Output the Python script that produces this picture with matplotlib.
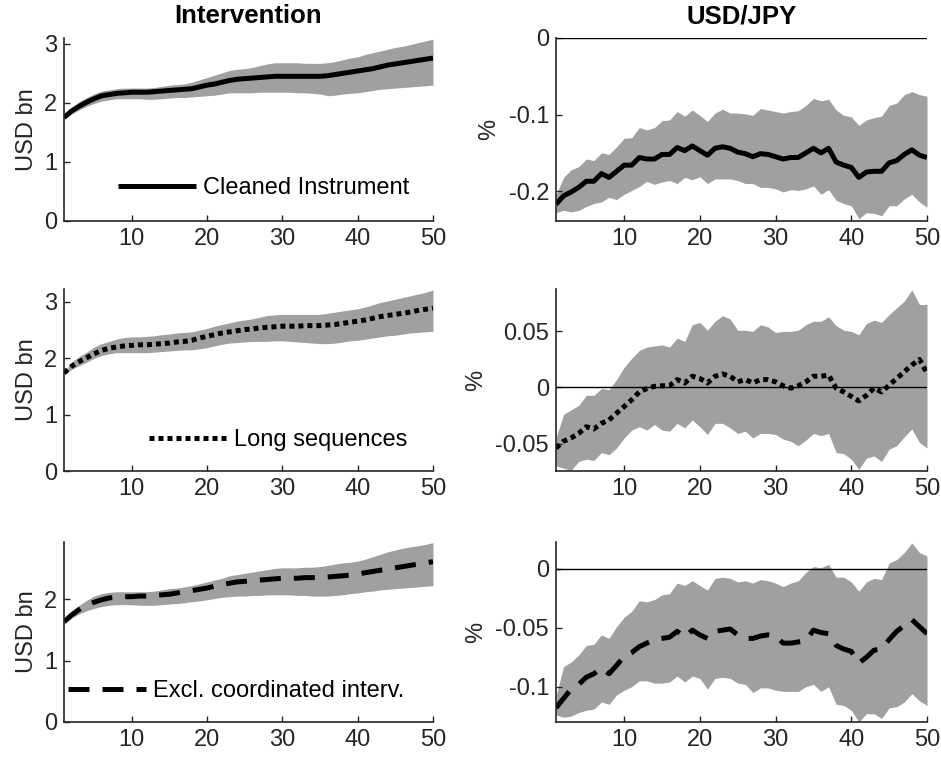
import matplotlib
matplotlib.use("Agg")
import matplotlib.pyplot as plt
import numpy as np

plt.rcParams['font.family'] = ['Liberation Sans', 'DejaVu Sans']
plt.rcParams['axes.unicode_minus'] = False

horizon = list(range(1, 51))

# ---- Intervention (left column) ----
int_clean = [1.75, 1.86, 1.94, 2.01, 2.07, 2.12, 2.14, 2.16, 2.17, 2.18, 2.18, 2.18, 2.19, 2.20, 2.21, 2.22, 2.23, 2.24, 2.27, 2.30,
             2.32, 2.35, 2.38, 2.40, 2.41, 2.42, 2.43, 2.44, 2.45, 2.45, 2.45, 2.45, 2.45, 2.45, 2.45, 2.46, 2.48, 2.50, 2.52, 2.54,
             2.56, 2.58, 2.61, 2.64, 2.66, 2.68, 2.70, 2.72, 2.74, 2.76]
int_clean_hi = [1.77, 1.92, 2.02, 2.09, 2.15, 2.20, 2.22, 2.24, 2.25, 2.25, 2.25, 2.25, 2.26, 2.28, 2.30, 2.31, 2.32, 2.35, 2.39, 2.43,
                2.47, 2.51, 2.55, 2.57, 2.58, 2.60, 2.63, 2.66, 2.68, 2.68, 2.68, 2.68, 2.67, 2.67, 2.67, 2.68, 2.70, 2.73, 2.76, 2.78,
                2.82, 2.85, 2.88, 2.91, 2.94, 2.96, 2.99, 3.02, 3.05, 3.08]
int_clean_lo = [1.73, 1.81, 1.88, 1.94, 1.99, 2.03, 2.05, 2.07, 2.07, 2.07, 2.07, 2.06, 2.06, 2.07, 2.08, 2.09, 2.09, 2.10, 2.11, 2.12,
                2.13, 2.15, 2.17, 2.17, 2.17, 2.17, 2.18, 2.18, 2.18, 2.18, 2.18, 2.17, 2.17, 2.16, 2.15, 2.12, 2.13, 2.15, 2.16, 2.17,
                2.19, 2.21, 2.23, 2.24, 2.25, 2.26, 2.27, 2.28, 2.29, 2.30]

int_long = [1.74, 1.86, 1.94, 2.01, 2.08, 2.14, 2.18, 2.20, 2.22, 2.23, 2.24, 2.24, 2.25, 2.26, 2.27, 2.29, 2.30, 2.32, 2.36, 2.39,
            2.42, 2.45, 2.47, 2.49, 2.51, 2.52, 2.54, 2.55, 2.56, 2.57, 2.57, 2.57, 2.58, 2.58, 2.58, 2.59, 2.60, 2.62, 2.64, 2.66,
            2.68, 2.71, 2.74, 2.76, 2.78, 2.80, 2.82, 2.85, 2.87, 2.89]
int_long_hi = [1.76, 1.93, 2.03, 2.11, 2.20, 2.26, 2.30, 2.34, 2.37, 2.38, 2.38, 2.39, 2.40, 2.42, 2.43, 2.45, 2.46, 2.47, 2.50, 2.53,
               2.57, 2.60, 2.63, 2.66, 2.68, 2.70, 2.73, 2.76, 2.77, 2.78, 2.78, 2.78, 2.78, 2.78, 2.78, 2.80, 2.82, 2.84, 2.86, 2.88,
               2.91, 2.95, 2.99, 3.02, 3.05, 3.08, 3.11, 3.14, 3.17, 3.21]
int_long_lo = [1.72, 1.80, 1.87, 1.93, 2.00, 2.05, 2.08, 2.10, 2.10, 2.10, 2.10, 2.10, 2.11, 2.12, 2.13, 2.14, 2.15, 2.15, 2.17, 2.19,
               2.22, 2.25, 2.27, 2.28, 2.29, 2.30, 2.30, 2.30, 2.31, 2.31, 2.30, 2.29, 2.28, 2.27, 2.26, 2.26, 2.27, 2.29, 2.31, 2.32,
               2.34, 2.36, 2.38, 2.40, 2.41, 2.43, 2.45, 2.46, 2.47, 2.48]

int_excl = [1.63, 1.74, 1.83, 1.90, 1.95, 1.99, 2.02, 2.03, 2.04, 2.04, 2.05, 2.05, 2.06, 2.07, 2.08, 2.10, 2.12, 2.14, 2.16, 2.18,
            2.21, 2.24, 2.26, 2.28, 2.29, 2.30, 2.31, 2.32, 2.33, 2.34, 2.34, 2.34, 2.35, 2.35, 2.35, 2.36, 2.37, 2.38, 2.39, 2.41,
            2.43, 2.45, 2.47, 2.49, 2.51, 2.53, 2.55, 2.57, 2.59, 2.61]
int_excl_hi = [1.65, 1.80, 1.90, 1.98, 2.05, 2.09, 2.11, 2.12, 2.12, 2.12, 2.12, 2.12, 2.13, 2.15, 2.17, 2.18, 2.20, 2.22, 2.25, 2.28,
               2.31, 2.34, 2.38, 2.40, 2.42, 2.44, 2.46, 2.48, 2.50, 2.51, 2.51, 2.51, 2.52, 2.52, 2.53, 2.55, 2.57, 2.59, 2.60, 2.62,
               2.65, 2.69, 2.73, 2.77, 2.80, 2.83, 2.85, 2.87, 2.89, 2.92]
int_excl_lo = [1.61, 1.69, 1.76, 1.81, 1.85, 1.88, 1.90, 1.91, 1.91, 1.91, 1.90, 1.90, 1.90, 1.91, 1.92, 1.93, 1.94, 1.96, 1.97, 1.99,
               2.01, 2.03, 2.04, 2.05, 2.05, 2.06, 2.06, 2.07, 2.07, 2.07, 2.07, 2.06, 2.06, 2.05, 2.05, 2.05, 2.06, 2.07, 2.09, 2.10,
               2.12, 2.13, 2.15, 2.16, 2.17, 2.18, 2.19, 2.20, 2.21, 2.22]

# ---- USD/JPY (right column) ----
fx_clean = [-0.217, -0.206, -0.201, -0.195, -0.187, -0.187, -0.177, -0.182, -0.174, -0.166, -0.166, -0.156, -0.158, -0.158, -0.152,
            -0.152, -0.143, -0.147, -0.141, -0.147, -0.153, -0.144, -0.142, -0.144, -0.149, -0.151, -0.155, -0.151, -0.152, -0.155,
            -0.158, -0.156, -0.156, -0.150, -0.144, -0.150, -0.144, -0.162, -0.166, -0.169, -0.182, -0.175, -0.174, -0.174, -0.163,
            -0.160, -0.152, -0.146, -0.153, -0.156]
fx_clean_hi = [-0.205, -0.182, -0.172, -0.168, -0.158, -0.160, -0.150, -0.152, -0.142, -0.131, -0.130, -0.117, -0.120, -0.117, -0.108,
               -0.107, -0.096, -0.102, -0.094, -0.101, -0.109, -0.098, -0.093, -0.098, -0.098, -0.099, -0.101, -0.092, -0.094, -0.096,
               -0.098, -0.096, -0.095, -0.088, -0.079, -0.082, -0.080, -0.094, -0.101, -0.103, -0.114, -0.107, -0.104, -0.102, -0.088,
               -0.085, -0.074, -0.070, -0.074, -0.076]
fx_clean_lo = [-0.228, -0.225, -0.227, -0.225, -0.220, -0.216, -0.214, -0.208, -0.211, -0.204, -0.199, -0.194, -0.187, -0.191, -0.188,
               -0.186, -0.190, -0.182, -0.185, -0.181, -0.190, -0.184, -0.184, -0.184, -0.186, -0.190, -0.190, -0.195, -0.195, -0.197,
               -0.201, -0.198, -0.199, -0.197, -0.193, -0.204, -0.198, -0.212, -0.216, -0.219, -0.236, -0.228, -0.229, -0.232, -0.219,
               -0.219, -0.210, -0.204, -0.214, -0.221]

fx_long = [-0.054, -0.048, -0.045, -0.041, -0.035, -0.037, -0.032, -0.029, -0.023, -0.017, -0.011, -0.004, -0.001, 0.001, 0.0015,
           0.0015, 0.007, 0.004, 0.010, 0.008, 0.004, 0.010, 0.012, 0.010, 0.005, 0.007, 0.004, 0.007, 0.007, 0.005,
           0.0015, -0.0006, 0.0015, 0.005, 0.010, 0.010, 0.011, -0.0006, -0.004, -0.008, -0.012, -0.007, -0.0006, -0.004, 0.002,
           0.008, 0.014, 0.020, 0.025, 0.013]
fx_long_hi = [-0.045, -0.024, -0.020, -0.016, -0.007, -0.007, -0.001, -0.002, 0.007, 0.018, 0.026, 0.033, 0.036, 0.037, 0.038,
              0.036, 0.044, 0.041, 0.056, 0.058, 0.051, 0.059, 0.064, 0.061, 0.051, 0.051, 0.050, 0.056, 0.054, 0.049,
              0.050, 0.050, 0.051, 0.056, 0.059, 0.059, 0.063, 0.055, 0.051, 0.050, 0.047, 0.057, 0.060, 0.058, 0.065,
              0.071, 0.077, 0.087, 0.074, 0.074]
fx_long_lo = [-0.070, -0.072, -0.074, -0.066, -0.064, -0.065, -0.058, -0.060, -0.054, -0.045, -0.038, -0.035, -0.038, -0.033, -0.038,
              -0.039, -0.032, -0.036, -0.029, -0.035, -0.042, -0.032, -0.032, -0.036, -0.041, -0.039, -0.045, -0.041, -0.041, -0.042,
              -0.046, -0.048, -0.052, -0.047, -0.041, -0.043, -0.041, -0.058, -0.059, -0.064, -0.073, -0.063, -0.061, -0.066, -0.055,
              -0.052, -0.044, -0.037, -0.049, -0.054]

fx_excl = [-0.118, -0.110, -0.102, -0.098, -0.092, -0.089, -0.084, -0.089, -0.082, -0.074, -0.071, -0.066, -0.063, -0.060, -0.059,
           -0.058, -0.053, -0.058, -0.052, -0.056, -0.059, -0.053, -0.052, -0.051, -0.056, -0.059, -0.059, -0.057, -0.056, -0.057,
           -0.063, -0.063, -0.062, -0.061, -0.052, -0.054, -0.055, -0.065, -0.068, -0.070, -0.080, -0.075, -0.069, -0.068, -0.060,
           -0.053, -0.048, -0.043, -0.049, -0.055]
fx_excl_hi = [-0.108, -0.083, -0.079, -0.073, -0.065, -0.064, -0.056, -0.059, -0.049, -0.041, -0.036, -0.027, -0.028, -0.026, -0.022,
              -0.021, -0.012, -0.014, -0.010, -0.014, -0.018, -0.008, -0.007, -0.008, -0.011, -0.010, -0.012, -0.009, -0.010, -0.012,
              -0.015, -0.012, -0.010, -0.003, 0.002, 0.001, 0.004, -0.007, -0.007, -0.011, -0.019, -0.011, -0.008, -0.009, 0.005,
              0.008, 0.014, 0.022, 0.014, 0.011]
fx_excl_lo = [-0.124, -0.126, -0.125, -0.122, -0.120, -0.119, -0.113, -0.115, -0.107, -0.103, -0.100, -0.095, -0.095, -0.097, -0.097,
              -0.096, -0.091, -0.096, -0.091, -0.093, -0.102, -0.093, -0.092, -0.093, -0.097, -0.098, -0.105, -0.101, -0.101, -0.103,
              -0.104, -0.104, -0.104, -0.100, -0.098, -0.104, -0.100, -0.115, -0.116, -0.120, -0.130, -0.123, -0.123, -0.127, -0.118,
              -0.117, -0.113, -0.106, -0.112, -0.116]

legend_labels = ["Cleaned Instrument", "Long sequences", "Excl. coordinated interv."]
col_titles = ["Intervention", "USD/JPY"]

left_ylims = [(0, 3.1), (0, 3.23), (0, 2.93)]
left_yticks = [[0, 1, 2, 3], [0, 1, 2, 3], [0, 1, 2]]
right_ylims = [(-0.2385, 0.0), (-0.0745, 0.0878), (-0.130, 0.0229)]
right_yticks = [[-0.2, -0.1, 0], [-0.05, 0, 0.05], [-0.1, -0.05, 0]]
right_ticklabels = [["-0.2", "-0.1", "0"], ["-0.05", "0", "0.05"], ["-0.1", "-0.05", "0"]]

band_color = "#a0a0a0"
axis_color = "#262626"
fs = 17

W, H = 941, 763
fig = plt.figure(figsize=(W / 100, H / 100), dpi=100)

rows_px = [(38, 220.7), (289, 471), (542, 722)]
cols_px = [(64, 433), (556, 927)]

styles = [dict(linestyle='-', linewidth=3.6, solid_capstyle='butt'),
          dict(linestyle=(0, (1.0, 0.8)), linewidth=3.6, dash_capstyle='butt'),
          dict(linestyle=(0, (4.2, 2.6)), linewidth=3.6, dash_capstyle='butt')]

left_data = [(int_clean, int_clean_lo, int_clean_hi), (int_long, int_long_lo, int_long_hi), (int_excl, int_excl_lo, int_excl_hi)]
right_data = [(fx_clean, fx_clean_lo, fx_clean_hi), (fx_long, fx_long_lo, fx_long_hi), (fx_excl, fx_excl_lo, fx_excl_hi)]
leg_anchor = [(0.935, 0.179), (0.93, 0.170), (0.921, 0.172)]

def style_axes(ax):
    for s in ['top', 'right']:
        ax.spines[s].set_visible(False)
    for s in ['left', 'bottom']:
        ax.spines[s].set_color(axis_color)
        ax.spines[s].set_linewidth(1.2)
    ax.tick_params(direction='in', length=4, width=1.0, colors=axis_color, labelsize=fs, pad=5)
    ax.set_xlim(1, 50)
    ax.set_xticks([10, 20, 30, 40, 50])

for r in range(3):
    top, bot = rows_px[r]
    for c in range(2):
        l, rr = cols_px[c]
        ax = fig.add_axes([l / W, 1 - bot / H, (rr - l) / W, (bot - top) / H])
        style_axes(ax)
        if c == 0:
            mid, lo, hi = left_data[r]
            ax.fill_between(horizon, lo, hi, color=band_color, linewidth=0)
            ax.plot(horizon, mid, color='black', label=legend_labels[r], **styles[r])
            ax.set_ylim(*left_ylims[r])
            ax.set_yticks(left_yticks[r])
            ax.set_ylabel("USD bn", fontsize=fs, color=axis_color, labelpad=4)
            ax.legend(loc='center right', bbox_to_anchor=leg_anchor[r], frameon=False, fontsize=fs,
                      handlelength=3.3, handletextpad=0.3, borderpad=0, borderaxespad=0)
        else:
            mid, lo, hi = right_data[r]
            ax.fill_between(horizon, lo, hi, color=band_color, linewidth=0)
            ax.axhline(0, color='black', linewidth=1.0)
            ax.plot(horizon, mid, color='black', **styles[r])
            ax.set_ylim(*right_ylims[r])
            ax.set_yticks(right_yticks[r])
            ax.set_yticklabels(right_ticklabels[r])
            ax.set_ylabel("%", fontsize=fs, color=axis_color, labelpad=6)
        if r == 0:
            fig.text((l + rr) / 2 / W, 1 - 16 / H, col_titles[c], ha='center', va='center',
                     fontsize=18.5, fontweight='bold', color='black')

fig.savefig("out.png", dpi=100)
